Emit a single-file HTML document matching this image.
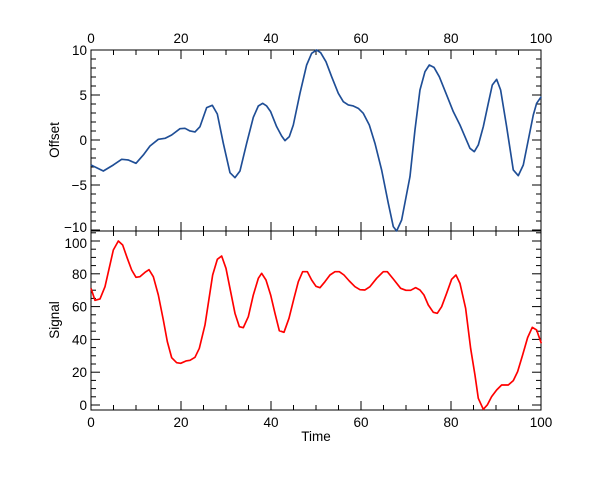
<!DOCTYPE html>
<html><head><meta charset="utf-8"><style>body{margin:0;background:#fff}svg{display:block}text{font-family:"Liberation Sans",sans-serif;font-size:13.5px;fill:#000}</style></head>
<body>
<svg id="s" width="600" height="480" xmlns="http://www.w3.org/2000/svg">
<rect x="91" y="50" width="450" height="181" fill="none" stroke="#000" stroke-width="1"/>
<rect x="91" y="231" width="450" height="179" fill="none" stroke="#000" stroke-width="1"/>
<g id="ticks" stroke="#000" stroke-width="1"></g>
<g id="labels"></g>
<text x="316" y="441" text-anchor="middle">Time</text>
<text transform="translate(59,140) rotate(-90)" text-anchor="middle">Offset</text>
<text transform="translate(59,320) rotate(-90)" text-anchor="middle">Signal</text>
<g transform="translate(80,30) scale(0.3333)">
<polyline fill="none" stroke="#1f4e96" stroke-width="5" stroke-linejoin="round" points="33,405 70,423 100,405 125,388 145,390 168,400 190,375 210,348 235,328 255,325 275,315 300,296 315,295 330,303 345,306 360,290 380,233 397,226 412,252 430,340 450,428 465,443 480,423 500,340 520,262 535,228 548,220 560,228 572,245 590,290 605,318 615,332 628,320 640,285 660,190 680,105 695,70 710,60 722,68 738,95 755,140 775,190 790,215 805,225 820,228 835,235 850,250 868,285 885,340 905,420 925,520 940,590 950,603 965,570 990,440 1005,300 1020,180 1035,125 1048,105 1062,112 1078,140 1100,195 1120,245 1140,285 1155,320 1170,355 1183,365 1195,345 1210,290 1225,220 1237,165 1250,148 1262,180 1280,290 1300,420 1315,437 1330,405 1345,330 1360,255 1370,220 1384,200"/>
</g>
<g transform="translate(80,225) scale(0.3333)">
<polyline fill="none" stroke="#f00" stroke-width="5" stroke-linejoin="round" points="33,190 45,226 60,222 75,185 100,75 115,48 128,60 142,100 155,135 168,157 180,155 195,142 207,134 220,155 235,210 250,285 262,350 275,398 290,413 302,415 318,408 330,406 345,397 358,370 375,300 398,150 412,103 425,93 438,130 452,200 465,265 478,305 490,308 505,275 520,210 535,160 545,145 558,165 572,210 585,265 598,317 612,322 627,280 642,220 655,170 668,140 682,140 695,165 708,184 720,188 735,170 750,150 765,140 778,140 792,150 808,168 825,185 840,194 855,195 870,185 890,160 910,140 922,140 940,162 962,190 978,196 992,196 1007,188 1020,195 1032,210 1045,240 1060,262 1072,265 1085,245 1100,205 1115,163 1128,150 1140,175 1157,250 1172,370 1185,450 1195,520 1210,553 1222,540 1235,515 1250,495 1265,480 1285,480 1300,467 1313,440 1328,390 1343,338 1357,307 1370,315 1384,355"/>
</g>
</svg>
<script>
var t=document.getElementById('ticks'),l=document.getElementById('labels'),h='',lb='';
function L(a,b,c,d){h+='<line x1="'+a+'" y1="'+b+'" x2="'+c+'" y2="'+d+'"/>';}
for(var v=0;v<=100;v+=5){var x=91+v*4.5,m=v%20==0?9:5;
 L(x,50,x,50+m);L(x,231,x,231-m);L(x,231,x,231+m);L(x,410,x,410-m);
 if(v%20==0){lb+='<text x="'+x+'" y="43" text-anchor="middle">'+v+'</text><text x="'+x+'" y="427" text-anchor="middle">'+v+'</text>';}}
for(var v=-10;v<=10;v++){var y=140-9*v,m=v%5==0?9:5;L(91,y,91+m,y);L(541,y,541-m,y);
 if(v%5==0)lb+='<text x="87" y="'+(y+5-(v==-10?3:0))+'" text-anchor="end">'+(v<0?'\u2212'+(-v):v)+'</text>';}
for(var v=0;v<=105;v+=5){var y=405-1.64*v;if(y<232)continue;var m=v%20==0?9:5;L(91,y,91+m,y);L(541,y,541-m,y);
 if(v%20==0)lb+='<text x="87" y="'+(y+5+(v==100?2:0))+'" text-anchor="end">'+v+'</text>';}
t.innerHTML=h;l.innerHTML=lb;
</script>
</body></html>
